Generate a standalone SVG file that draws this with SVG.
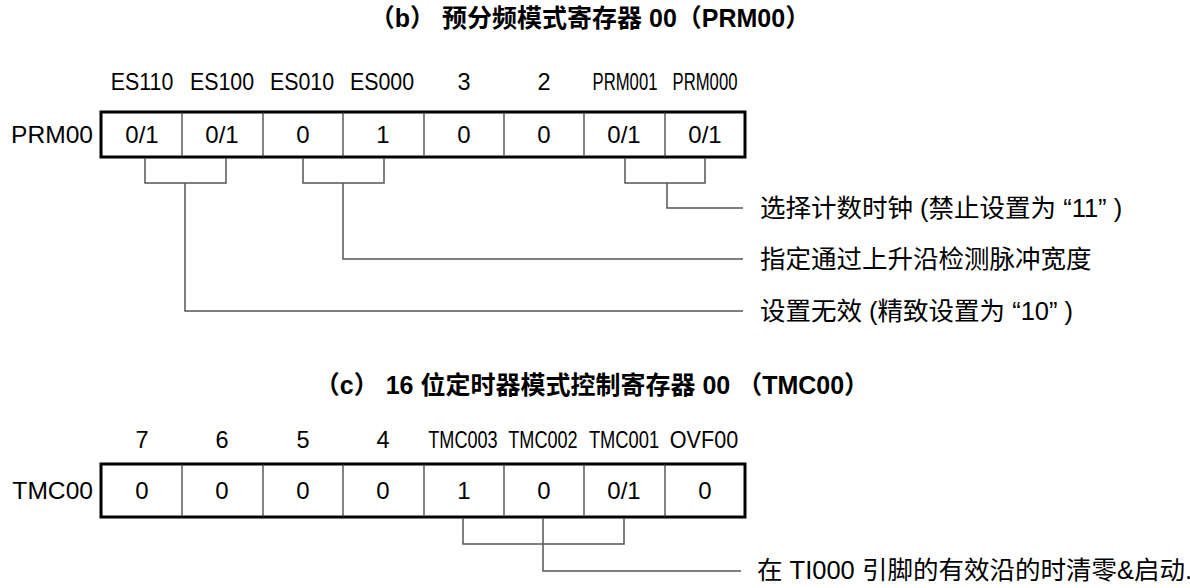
<svg xmlns="http://www.w3.org/2000/svg" width="1190" height="588" viewBox="0 0 1190 588">
<style>
  text { font-family: "Liberation Sans", "Noto Sans CJK SC", Arial, sans-serif; fill: #000; }
  .title { font-size: 25px; font-weight: bold; text-anchor: middle; }
  .hdr { font-size: 23.5px; text-anchor: middle; }
  .val { font-size: 24px; text-anchor: middle; }
  .reg { font-size: 24.6px; text-anchor: end; }
  .note { font-size: 25.5px; }
  .outer { fill: none; stroke: #000; stroke-width: 3; }
  .div { stroke: #333; stroke-width: 1.2; }
  .conn { fill: none; stroke: #555; stroke-width: 1.5; }
</style>

<g id="title-b"><text class="title" x="590" y="27">（b） 预分频模式寄存器 00（PRM00）</text></g>

<g id="prm00">
  <text class="hdr" transform="translate(142,90) scale(0.91,1)">ES110</text>
  <text class="hdr" transform="translate(222,90) scale(0.91,1)">ES100</text>
  <text class="hdr" transform="translate(302,90) scale(0.91,1)">ES010</text>
  <text class="hdr" transform="translate(382,90) scale(0.91,1)">ES000</text>
  <text class="hdr" x="464" y="90">3</text>
  <text class="hdr" x="544" y="90">2</text>
  <text class="hdr" transform="translate(625,90) scale(0.71,1)">PRM001</text>
  <text class="hdr" transform="translate(705,90) scale(0.71,1)">PRM000</text>
  <text class="reg" x="93" y="143">PRM00</text>
  <rect class="outer" x="101" y="112" width="644" height="45"/>
  <line class="div" x1="182" y1="112" x2="182" y2="157"/>
  <line class="div" x1="263" y1="112" x2="263" y2="157"/>
  <line class="div" x1="343" y1="112" x2="343" y2="157"/>
  <line class="div" x1="424" y1="112" x2="424" y2="157"/>
  <line class="div" x1="504" y1="112" x2="504" y2="157"/>
  <line class="div" x1="584" y1="112" x2="584" y2="157"/>
  <line class="div" x1="665" y1="112" x2="665" y2="157"/>
  <text class="val" x="142" y="143">0/1</text>
  <text class="val" x="222" y="143">0/1</text>
  <text class="val" x="303" y="143">0</text>
  <text class="val" x="383" y="143">1</text>
  <text class="val" x="464" y="143">0</text>
  <text class="val" x="544" y="143">0</text>
  <text class="val" x="624" y="143">0/1</text>
  <text class="val" x="705" y="143">0/1</text>
</g>

<g id="notes-b">
  <text class="note" x="760" y="217">选择计数时钟 (禁止设置为 “11” )</text>
  <text class="note" x="760" y="268">指定通过上升沿检测脉冲宽度</text>
  <text class="note" x="760" y="320">设置无效 (精致设置为 “10” )</text>
</g>

<g id="title-c"><text class="title" x="592" y="394">（c） 16 位定时器模式控制寄存器 00 （TMC00）</text></g>

<g id="tmc00">
  <text class="hdr" x="142" y="448">7</text>
  <text class="hdr" x="222" y="448">6</text>
  <text class="hdr" x="303" y="448">5</text>
  <text class="hdr" x="383" y="448">4</text>
  <text class="hdr" transform="translate(463,448) scale(0.77,1)">TMC003</text>
  <text class="hdr" transform="translate(543,448) scale(0.77,1)">TMC002</text>
  <text class="hdr" transform="translate(624,448) scale(0.78,1)">TMC001</text>
  <text class="hdr" transform="translate(704,448) scale(0.92,1)">OVF00</text>
  <text class="reg" x="93" y="499">TMC00</text>
  <rect class="outer" x="101" y="464" width="644" height="53"/>
  <line class="div" x1="182" y1="464" x2="182" y2="517"/>
  <line class="div" x1="263" y1="464" x2="263" y2="517"/>
  <line class="div" x1="343" y1="464" x2="343" y2="517"/>
  <line class="div" x1="424" y1="464" x2="424" y2="517"/>
  <line class="div" x1="504" y1="464" x2="504" y2="517"/>
  <line class="div" x1="584" y1="464" x2="584" y2="517"/>
  <line class="div" x1="665" y1="464" x2="665" y2="517"/>
  <text class="val" x="142" y="499">0</text>
  <text class="val" x="222" y="499">0</text>
  <text class="val" x="303" y="499">0</text>
  <text class="val" x="383" y="499">0</text>
  <text class="val" x="464" y="499">1</text>
  <text class="val" x="544" y="499">0</text>
  <text class="val" x="624" y="499">0/1</text>
  <text class="val" x="705" y="499">0</text>
</g>

<g id="notes-c">
  <text class="note" x="757" y="579">在 TI000 引脚的有效沿的时清零&amp;启动.</text>
</g>

<g id="connectors">
  <polyline class="conn" points="145,158 145,183 226,183 226,158"/>
  <polyline class="conn" points="185,183 185,311 743,311"/>
  <polyline class="conn" points="303,158 303,183 384,183 384,158"/>
  <polyline class="conn" points="343,183 343,259 743,259"/>
  <polyline class="conn" points="625,158 625,183 705,183 705,158"/>
  <polyline class="conn" points="667,183 667,208 743,208"/>
  <polyline class="conn" points="463,518 463,544 624,544 624,518"/>
  <polyline class="conn" points="543,518 543,571 741,571"/>
</g>
</svg>
